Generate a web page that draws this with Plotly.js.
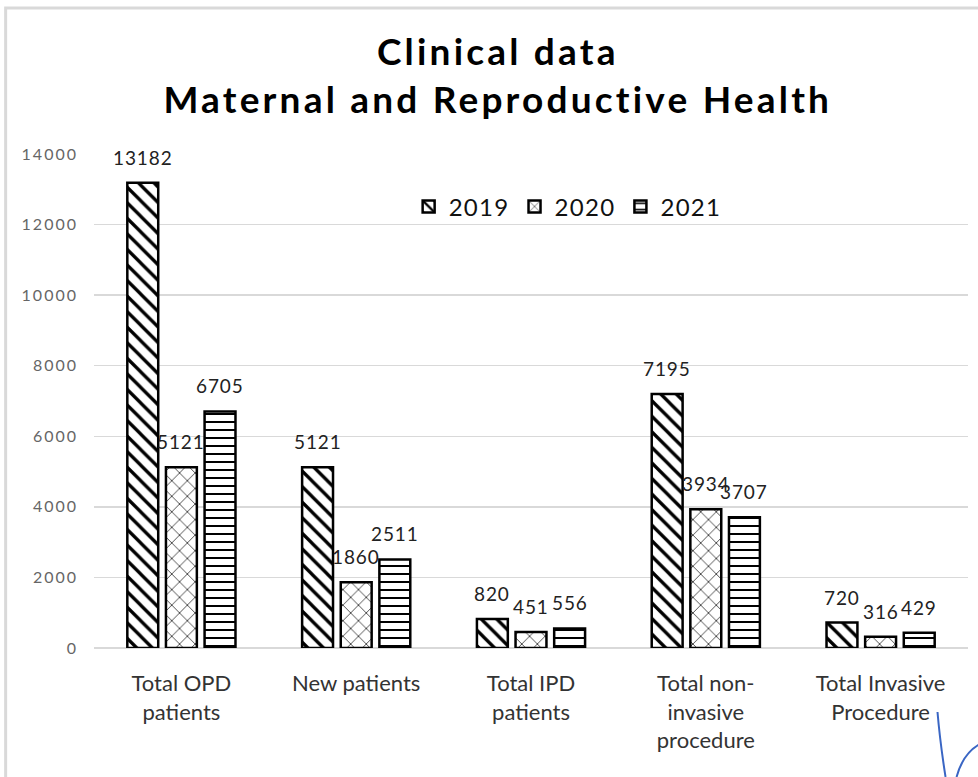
<!DOCTYPE html>
<html>
<head>
<meta charset="utf-8">
<script src="https://cdn.plot.ly/plotly-3.0.1.min.js"></script>
<style>html,body{margin:0;padding:0;background:#fff;}#chart{width:978px;height:777px;}</style>
</head>
<body>
<div id="chart"></div>
<script>
const categories = ["Total OPD<br>patients", "New patients", "Total IPD<br>patients", "Total non-<br>invasive<br>procedure", "Total Invasive<br>Procedure"];
const seriesNames = ["2019", "2020", "2021"];
const values2019 = [13182, 5121, 820, 7195, 720];
const values2020 = [5121, 1860, 451, 3934, 316];
const values2021 = [6705, 2511, 556, 3707, 429];
const yTicks = [0, 2000, 4000, 6000, 8000, 10000, 12000, 14000];

const spaced = (s, px) => '<span style="letter-spacing:' + px + 'px">' + s + '</span>';

const allValues = [values2019, values2020, values2021];
const patterns = [
  {shape: "\\", size: 11, solidity: 0.3, fgcolor: "#000", bgcolor: "#fff", fillmode: "replace"},
  {shape: "x", size: 11, solidity: 0.12, fgcolor: "#000", bgcolor: "#fff", fillmode: "replace"},
  {shape: "-", size: 8, solidity: 0.25, fgcolor: "#000", bgcolor: "#fff", fillmode: "replace"}
];
const bargap = 0.337;

const traces = allValues.map((vals, i) => ({
  type: "bar",
  name: spaced(seriesNames[i], 1.3),
  x: categories,
  y: vals,
  marker: {color: "#fff", line: {color: "#000", width: 2.5}, pattern: patterns[i]},
  hoverinfo: "x+y"
}));

const annotations = [];
allValues.forEach((vals, i) => {
  const off = (i - 1) * (1 - bargap) / 3;
  vals.forEach((v, j) => {
    annotations.push({
      x: j + off, y: v, xref: "x", yref: "y",
      text: spaced(String(v), 0.9), showarrow: false,
      yanchor: "bottom", yshift: 12,
      font: {family: "Lato, 'Open Sans', sans-serif", size: 19, color: "#222"}
    });
  });
});

const layout = {
  width: 978, height: 777,
  margin: {l: 94, r: 10, t: 154, b: 129},
  paper_bgcolor: "#fff", plot_bgcolor: "#fff",
  font: {family: "Lato, 'Open Sans', sans-serif"},
  title: {
    text: "<b><span style=\"letter-spacing:3.2px\">Clinical data<br>Maternal and Reproductive Health</span></b>",
    font: {family: "Lato, 'Open Sans', sans-serif", size: 37, color: "#000"},
    x: 0.509, xref: "container", xanchor: "center",
    y: 0.916, yref: "container", yanchor: "middle"
  },
  barmode: "group",
  bargap: bargap,
  bargroupgap: 0.2,
  showlegend: true,
  legend: {
    orientation: "h", x: 0.36, xanchor: "left", y: 0.893, yanchor: "middle",
    font: {size: 24, color: "#111"}, bgcolor: "rgba(0,0,0,0)",
    itemwidth: 30, tracegroupgap: 0
  },
  xaxis: {
    type: "category",
    tickfont: {size: 22, color: "#333"},
    ticks: "", ticklabelstandoff: 20,
    showline: false, showgrid: false
  },
  yaxis: {
    range: [0, 14000], tickvals: yTicks, ticktext: yTicks.map(v => spaced(String(v), 2)),
    tickfont: {size: 16, color: "#666"},
    gridcolor: "#d9d9d9", gridwidth: 1.3,
    zeroline: true, zerolinecolor: "#d9d9d9", zerolinewidth: 1.3,
    showline: false, ticks: "", ticklabelstandoff: 15
  },
  annotations: annotations,
  shapes: [
    {type: "rect", xref: "paper", yref: "paper", x0: -0.1011, x1: 1.2, y0: -0.6, y1: 1.2955,
     line: {color: "#d9d9d9", width: 3}, fillcolor: "rgba(0,0,0,0)", layer: "below"},
    {type: "path", xref: "paper", yref: "paper",
     path: "M 0.9651 -0.1296 Q 0.968 -0.19 0.9743 -0.2611",
     line: {color: "#3a66c4", width: 2}},
    {type: "path", xref: "paper", yref: "paper",
     path: "M 0.9869 -0.2611 Q 0.994 -0.215 1.012 -0.196",
     line: {color: "#3a66c4", width: 2}}
  ]
};

Plotly.newPlot("chart", traces, layout, {displayModeBar: false, staticPlot: true});
</script>
</body>
</html>
